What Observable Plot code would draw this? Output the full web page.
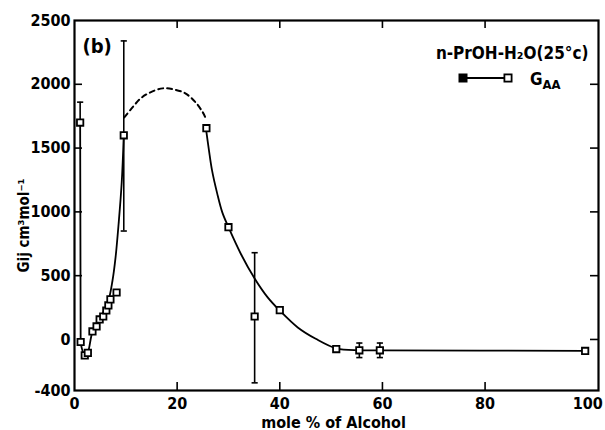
<!DOCTYPE html>
<html><head><meta charset="utf-8">
<script src="https://cdn.jsdelivr.net/npm/d3@7"></script>
<script src="https://cdn.jsdelivr.net/npm/@observablehq/plot@0.6"></script>
<style>
body{margin:0;background:#fff;}
#chart{width:605px;height:430px;}
</style></head><body><div id="chart"></div>
<script>
// measured G_AA points (mole % of alcohol, cm3/mol)
const molePct = [1.1, 1.2, 2.0, 2.6, 3.5, 4.3, 4.9, 5.6, 6.2, 6.6, 7.0, 8.2, 9.6, 25.7, 30.0, 35.1, 40.0, 51.0, 55.5, 59.5, 99.5];
const gAA     = [1700, -20, -125, -105, 63, 102, 157, 180, 227, 267, 314, 368, 1600, 1656, 880, 180, 230, -75, -85, -85, -90];
// error bars
const errX    = [1.1, 9.6, 35.1, 55.5, 59.5];
const errLow  = [1700, 850, -340, -142, -142];
const errHigh = [1860, 2340, 680, -28, -28];
// drawn fit curve: steep drop at the lowest concentration
const fitDropX = [1.1, 1.2];
const fitDropY = [1700, -30];
// drawn fit curve, low-concentration branch
const fitLeftX = [1.2, 2.0, 2.6, 3.5, 5.0, 6.5, 7.4, 8.0, 8.6, 9.2, 9.6];
const fitLeftY = [-30, -125, -100, 60, 170, 290, 460, 643, 909, 1230, 1600];
// drawn fit curve, high-concentration branch
const fitRightX = [25.6, 26.2, 26.8, 27.8, 28.8, 30.0, 32.4, 35.1, 37.6, 40.0, 43.5, 47.0, 51.0, 55.5, 59.5, 99.5];
const fitRightY = [1656, 1482, 1325, 1145, 996, 880, 672, 478, 332, 226, 94, 5, -70, -85, -85, -90];
// dashed section
const dashX = [9.7, 11.3, 12.9, 14.8, 17.2, 19.3, 21.6, 23.6, 25.0, 25.5];
const dashY = [1740, 1819, 1890, 1937, 1968, 1960, 1929, 1858, 1780, 1740];
// ticks
const xTickLabels = [0, 20, 40, 60, 80, 100];
const xInnerTicks = [20, 40, 60, 80];
const yTickLabels = [-400, 0, 500, 1000, 1500, 2000, 2500];
const yInnerTicks = [500, 1000, 1500, 2000];
const yRightTicks = [0, 500, 1000, 1500, 2000];

const points = molePct.map((x, i) => ({x, y: gAA[i]}));
const errs = errX.map((x, i) => ({x, lo: errLow[i], hi: errHigh[i]}));
const fitCurved = [
  ...fitLeftX.map((x, i) => ({x, y: fitLeftY[i], seg: "L"})),
  ...fitRightX.map((x, i) => ({x, y: fitRightY[i], seg: "R"}))
];
const fitDrop = fitDropX.map((x, i) => ({x, y: fitDropY[i]}));
const dash = dashX.map((x, i) => ({x, y: dashY[i]}));

const W = 605, H = 430, mT = 20, mB = 40, mL = 74, mR = 7;
const innerH = H - mT - mB, innerW = W - mL - mR;
const T = 8;

const plot = Plot.plot({
  width: W, height: H,
  marginLeft: mL, marginRight: mR, marginTop: mT, marginBottom: mB,
  style: {fontFamily: "'DejaVu Sans Condensed','DejaVu Sans',sans-serif", fontSize: "16px", fontWeight: "bold", background: "white", color: "black"},
  x: {domain: [0, 102.1]},
  y: {domain: [-400, 2500]},
  marks: [
    Plot.axisX(xTickLabels, {tickSize: 0, tickPadding: 7, label: null, tickFormat: d => String(d)}),
    Plot.axisY(yTickLabels, {tickSize: 0, tickPadding: 4, label: null, tickFormat: d => String(d)}),
    Plot.ruleX(xInnerTicks, {x: d => d, insetTop: innerH - T, strokeWidth: 1.6}),
    Plot.ruleX(xInnerTicks, {x: d => d, insetBottom: innerH - T, strokeWidth: 1.6}),
    Plot.ruleY(yInnerTicks, {y: d => d, insetRight: innerW - T, strokeWidth: 1.6}),
    Plot.ruleY(yRightTicks, {y: d => d, insetLeft: innerW - T, strokeWidth: 1.6}),
    Plot.frame({strokeWidth: 2.2}),
    Plot.ruleX(errs, {x: "x", y1: "lo", y2: "hi", strokeWidth: 1.6}),
    Plot.link(errs, {x1: d => d.x - 0.6, x2: d => d.x + 0.6, y1: "hi", y2: "hi", strokeWidth: 1.6}),
    Plot.link(errs.filter(d => d.x > 5), {x1: d => d.x - 0.6, x2: d => d.x + 0.6, y1: "lo", y2: "lo", strokeWidth: 1.6}),
    Plot.line(fitDrop, {x: "x", y: "y", strokeWidth: 1.8}),
    Plot.line(fitCurved, {x: "x", y: "y", z: "seg", curve: "catmull-rom", strokeWidth: 1.8}),
    Plot.line(dash, {x: "x", y: "y", curve: "catmull-rom", strokeWidth: 2, strokeDasharray: "5,4"}),
    Plot.dot(points, {x: "x", y: "y", symbol: "square", r: 3.6, fill: "white", stroke: "black", strokeWidth: 1.8}),
    Plot.text(["mole % of Alcohol"], {frameAnchor: "bottom", dy: 37, dx: -3, fontSize: 16}),
    Plot.text(["Gij cm³mol⁻¹"], {frameAnchor: "left", textAnchor: "middle", dx: -50, dy: 20, rotate: -90, fontSize: 15}),
    Plot.text(["(b)"], {frameAnchor: "top-left", dx: 8, dy: 18, fontSize: 20}),
    Plot.text(["n-PrOH-H₂O(25°c)"], {frameAnchor: "top-right", dx: -10, dy: 26, fontSize: 17})
  ]
});

document.getElementById("chart").appendChild(plot);

// legend sample
const svg = d3.select(plot);
const g = svg.append("g").attr("stroke", "black");
g.append("line").attr("x1", 463).attr("x2", 508).attr("y1", 78).attr("y2", 78).attr("stroke-width", 1.8);
[463, 508].forEach(cx => g.append("rect").attr("x", cx - 3.6).attr("y", 78 - 3.6).attr("width", 7.2).attr("height", 7.2)
  .attr("fill", cx === 463 ? "black" : "white").attr("stroke-width", 1.8));
const t = svg.append("text").attr("x", 530).attr("y", 85).attr("text-anchor", "start")
  .attr("font-size", 17).attr("font-weight", "bold").attr("fill", "black");
t.append("tspan").text("G");
t.append("tspan").attr("dy", 4).attr("font-size", 13).text("AA");
</script></body></html>
